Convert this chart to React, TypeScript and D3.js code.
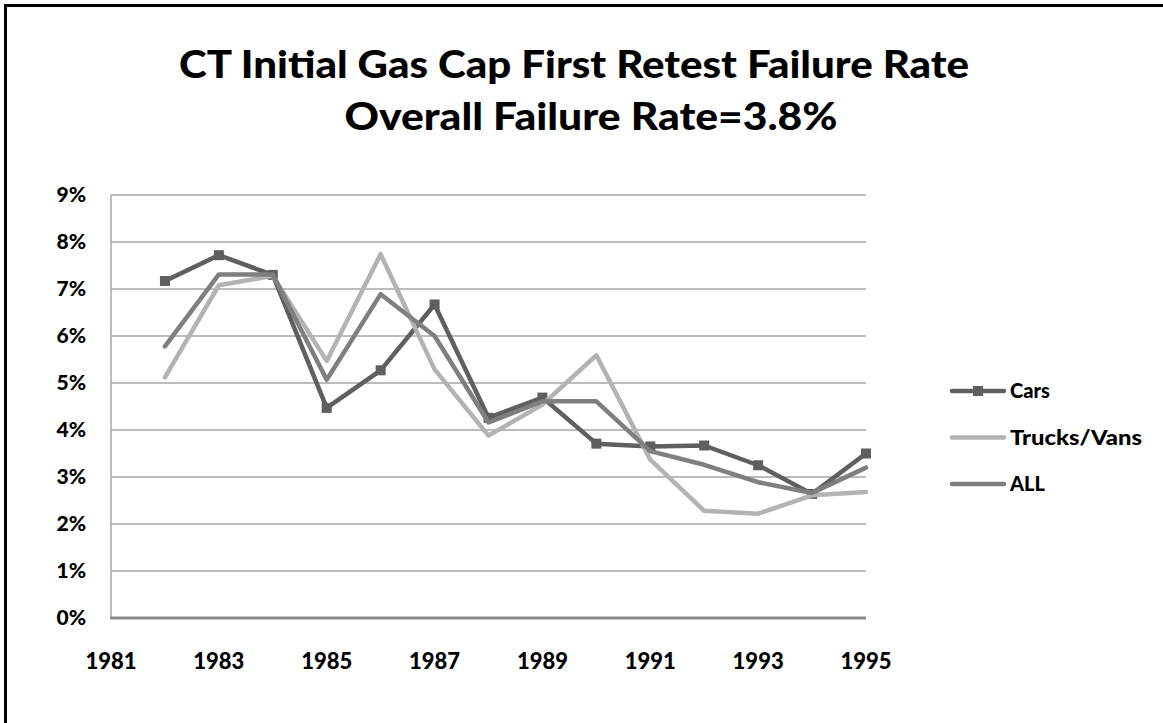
import React from "react";
import * as d3 from "d3";

const years = [1982, 1983, 1984, 1985, 1986, 1987, 1988, 1989, 1990, 1991, 1992, 1993, 1994, 1995];
const cars = [7.17, 7.72, 7.3, 4.47, 5.27, 6.67, 4.26, 4.69, 3.71, 3.65, 3.67, 3.25, 2.64, 3.5];
const trucks = [5.12, 7.08, 7.28, 5.47, 7.74, 5.29, 3.88, 4.54, 5.59, 3.37, 2.28, 2.22, 2.61, 2.68];
const allVeh = [5.78, 7.31, 7.31, 5.07, 6.89, 6.0, 4.16, 4.61, 4.61, 3.55, 3.26, 2.89, 2.66, 3.2];
const xTicks = [1981, 1983, 1985, 1987, 1989, 1991, 1993, 1995];
const yTicks = [0, 1, 2, 3, 4, 5, 6, 7, 8, 9];
const titleLines = ["CT Initial Gas Cap First Retest Failure Rate", "Overall Failure Rate=3.8%"];

const series = [
  { name: "Cars", values: cars, color: "#5f5f5f", marker: true },
  { name: "Trucks/Vans", values: trucks, color: "#b3b3b3", marker: false },
  { name: "ALL", values: allVeh, color: "#7f7f7f", marker: false },
];

const W = 1163;
const H = 723;
const font = "Lato, 'Open Sans', sans-serif";

export default function App() {
  const x = d3.scaleLinear().domain([1981, 1995]).range([111, 866]);
  const y = d3.scaleLinear().domain([0, 9]).range([618, 195]);
  const line = d3
    .line<number>()
    .x((_, i) => x(years[i]))
    .y((d) => y(d));

  const titleX = [574, 591];
  const titleY = [78, 130];
  const titleLen = [790, 493];

  return (
    <svg
      width={W}
      height={H}
      style={{ position: "absolute", left: 0, top: 0, background: "#fff" }}
    >
      <rect x={0} y={0} width={W} height={H} fill="#fff" />
      <path d={`M5.5,${H} L5.5,5.5 L${W},5.5`} fill="none" stroke="#000" strokeWidth={3} />

      {titleLines.map((t, i) => (
        <text
          key={i}
          x={titleX[i]}
          y={titleY[i]}
          textAnchor="middle"
          fontFamily={font}
          fontWeight={900}
          fontSize={37}
          fill="#000"
          textLength={titleLen[i]}
          lengthAdjust="spacingAndGlyphs"
        >
          {t}
        </text>
      ))}

      {yTicks.map((t) => (
        <g key={t}>
          {t > 0 && (
            <line x1={111} x2={866} y1={y(t)} y2={y(t)} stroke="#a6a6a6" strokeWidth={1.5} />
          )}
          <text
            x={86}
            y={y(t)}
            dy="0.35em"
            textAnchor="end"
            fontFamily={font}
            fontWeight={900}
            fontSize={21}
            fill="#000"
          >
            {t}%
          </text>
        </g>
      ))}
      <line x1={111} x2={111} y1={195} y2={618} stroke="#a6a6a6" strokeWidth={1.5} />
      <line x1={110} x2={866} y1={618} y2={618} stroke="#8c8c8c" strokeWidth={3} />

      {xTicks.map((t) => (
        <text
          key={t}
          x={x(t)}
          y={669}
          textAnchor="middle"
          fontFamily={font}
          fontWeight={900}
          fontSize={22}
          fill="#000"
        >
          {t}
        </text>
      ))}

      {series.map((s) => (
        <g key={s.name}>
          <path
            d={line(s.values) || ""}
            fill="none"
            stroke={s.color}
            strokeWidth={4.5}
            strokeLinejoin="round"
            strokeLinecap="round"
          />
          {s.marker &&
            s.values.map((v, i) => (
              <rect
                key={i}
                x={x(years[i]) - 5}
                y={y(v) - 5}
                width={10}
                height={10}
                fill={s.color}
              />
            ))}
        </g>
      ))}

      {series.map((s, i) => {
        const ly = 391 + i * 46.5;
        return (
          <g key={s.name}>
            <line
              x1={952}
              x2={1004}
              y1={ly}
              y2={ly}
              stroke={s.color}
              strokeWidth={4.5}
              strokeLinecap="round"
            />
            {s.marker && <rect x={973} y={ly - 5} width={10} height={10} fill={s.color} />}
            <text
              x={1010}
              y={ly}
              dy="0.35em"
              fontFamily={font}
              fontWeight={900}
              fontSize={20}
              fill="#000"
              textLength={s.name.length > 5 ? 132 : undefined}
              lengthAdjust="spacingAndGlyphs"
            >
              {s.name}
            </text>
          </g>
        );
      })}
    </svg>
  );
}
